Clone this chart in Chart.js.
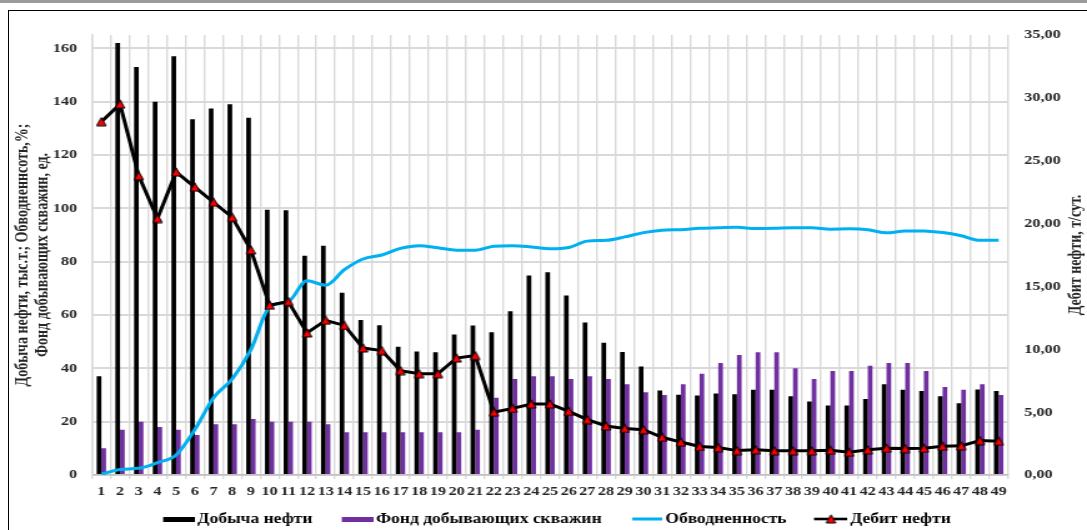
<!DOCTYPE html>
<html><head><meta charset="utf-8">
<script src="https://cdn.jsdelivr.net/npm/chart.js@4/dist/chart.umd.min.js"></script>
<style>
html,body{margin:0;padding:0;overflow:hidden;background:#fff;width:1087px;height:530px;}
#band{position:absolute;left:0;top:0;width:1087px;height:3px;background:#9b9b9b;}
#frame{position:absolute;left:8px;top:10px;width:1100px;height:600px;border:1.5px solid #000;box-sizing:border-box;}
#wrap{position:absolute;left:0;top:0;width:870px;height:530px;transform:scaleX(1.24943);transform-origin:0 0;}
</style></head><body>
<div id="band"></div><div id="frame"></div>
<div id="wrap"><canvas id="c" width="870" height="530"></canvas></div>
<script>
// ---- data ----
const categories = ['1','2','3','4','5','6','7','8','9','10','11','12','13','14','15','16','17','18','19','20','21','22','23','24','25','26','27','28','29','30','31','32','33','34','35','36','37','38','39','40','41','42','43','44','45','46','47','48','49'];
const oilProduction = [37,162,153,140,157,133.4,137.4,139,134,99.5, 99.3,82.2,86,68.3,58.1,56.2,48.1,46.3,46,52.7, 56.1,53.5,61.4,74.8,76,67.3,57.2,49.6,46.1,40.7, 31.7,30.1,29.8,30.6,30.3,32,32,29.5,27.6,26.1, 26.1,28.5,34,32,31.5,29.5,26.9,32.1,31.5];
const wellStock = [10,17,20,18,17,15,19,19,21,20, 20,20,19,16,16,16,16,16,16,16, 17,29,36,37,37,36,37,36,34,31, 30,34,38,42,45,46,46,40,36,39, 39,41,42,42,39,33,32,34,30];
const waterCut = [0.3,2.1,2.5,4.6,7.5,17,29,36,47,63, 65,72.8,71.2,77,81,82.5,85,86,85.2,84.3, 84.3,85.8,86,85.5,84.8,85.3,87.7,88,89.3,90.9, 91.8,92,92.5,92.7,92.9,92.4,92.5,92.7,92.7,92.2, 92.3,92,90.8,91.5,91.5,90.9,89.7,88,88];
const oilRate = [28.1,29.5,23.8,20.4,24.1,22.9,21.7,20.5,17.9,13.5, 13.8,11.3,12.3,11.9,10.1,9.9,8.3,8.05,8.05,9.3, 9.5,5.0,5.3,5.65,5.65,5.06,4.4,3.9,3.7,3.6, 3.0,2.62,2.27,2.18,1.94,2.0,1.92,1.92,1.92,1.97, 1.81,2.0,2.13,2.1,2.13,2.29,2.32,2.74,2.69];
const seriesNames = ['Добыча нефти','Фонд добывающих скважин','Обводненность','Дебит нефти'];
const leftTitle = ['Добыча нефти, тыс.т.; Обводненнсоть,%;','Фонд добывающих скважин, ед.'];
const rightTitle = 'Дебит нефти, т/сут.';
const leftTicks = [0,20,40,60,80,100,120,140,160];

// ---- styling ----
const FONT = '"Liberation Serif","Times New Roman",serif';
const TXT = '#262626';
const W = 870, H = 530;
const PLOT_L = 92/1.24943, PLOT_R = 1008/1.24943, PLOT_B = 475;
const PAD_L = 10, PAD_B = -6, LEG_PAD = 12, LEG_FS = 14, BOXW = 32;

function mkIcon(w,h,draw){const c=document.createElement('canvas');c.width=w;c.height=h;draw(c.getContext('2d'),w,h);return c;}
function tri(g,cx,cy){g.beginPath();g.moveTo(cx,cy-4.2);g.lineTo(cx+3.8,cy+4);g.lineTo(cx-3.8,cy+4);g.closePath();g.fillStyle='#ff0000';g.fill();g.lineWidth=1;g.strokeStyle='#000';g.stroke();}
const triImg = mkIcon(10,10,(g)=>tri(g,5,5));
// legend icons: canvas wider than the legend box so the swatch ends close to the text
const ICW = Math.round(BOXW + 9);
const icons = [
  mkIcon(ICW,5,(g,w,h)=>{g.fillStyle='#000';g.fillRect(w-25,0,25,h);}),
  mkIcon(ICW,5,(g,w,h)=>{g.fillStyle='#7030A0';g.fillRect(w-25,0,25,h);}),
  mkIcon(ICW,4,(g,w,h)=>{g.fillStyle='#00B0F0';g.fillRect(w-24,0.5,24,3);}),
  mkIcon(ICW+1,10,(g,w,h)=>{g.fillStyle='#000';g.fillRect(w-27,3.7,27,2.6);tri(g,w-27+13.6,5);})
];

const rightTitlePlugin = {
  id:'rightTitle',
  afterDraw(chart){
    const ctx = chart.ctx;
    ctx.save();
    ctx.translate(861.4, 255);
    ctx.rotate(-Math.PI/2);
    ctx.font = 'bold 14px ' + FONT;
    ctx.fillStyle = TXT;
    ctx.textAlign = 'center';
    ctx.textBaseline = 'middle';
    ctx.fillText(rightTitle, 0, 0);
    ctx.restore();
  }
};

const tickFont = {family:FONT, size:13, weight:'bold'};

new Chart(document.getElementById('c'), {
  type:'bar',
  data:{
    labels: categories,
    datasets:[
      {type:'bar', label:seriesNames[0], data:oilProduction, backgroundColor:'#000000', yAxisID:'y', order:3, categoryPercentage:0.5, barPercentage:1},
      {type:'bar', label:seriesNames[1], data:wellStock, backgroundColor:'#7030A0', yAxisID:'y', order:4, categoryPercentage:0.5, barPercentage:1},
      {type:'line', label:seriesNames[2], data:waterCut, borderColor:'#00B0F0', backgroundColor:'#00B0F0', borderWidth:3, pointRadius:0, cubicInterpolationMode:'monotone', yAxisID:'y', order:2},
      {type:'line', label:seriesNames[3], data:oilRate, borderColor:'#000000', backgroundColor:'#ff0000', borderWidth:3, pointStyle:triImg, pointRadius:5, tension:0, yAxisID:'y1', order:1}
    ]
  },
  options:{
    responsive:false,
    animation:false,
    devicePixelRatio:1,
    layout:{padding:{top:35, left:PAD_L, right:0, bottom:PAD_B}},
    plugins:{
      tooltip:{enabled:false},
      legend:{
        position:'bottom',
        labels:{
          font:{family:FONT, size:LEG_FS, weight:'bold'},
          color:'#000',
          usePointStyle:true,
          pointStyleWidth:BOXW,
          padding:LEG_PAD,
          generateLabels(chart){
            const items = Chart.defaults.plugins.legend.labels.generateLabels(chart);
            items.sort((a,b)=>a.datasetIndex-b.datasetIndex);
            items.forEach(it=>{it.pointStyle = icons[it.datasetIndex]; it.fontColor = '#000';});
            return items;
          }
        }
      }
    },
    scales:{
      x:{
        grid:{offset:true, color:'#d9d9d9', lineWidth:1.4, tickLength:4, drawTicks:true},
        border:{color:'#bfbfbf', width:1.5},
        ticks:{font:tickFont, color:TXT, autoSkip:false, maxRotation:0, minRotation:0, padding:5},
        afterFit(s){ s.height = (H - PAD_B) - (LEG_FS + LEG_PAD + 10) - PLOT_B; }
      },
      y:{
        position:'left', min:0, max:165,
        ticks:{stepSize:20, font:tickFont, color:TXT, padding:12},
        afterBuildTicks(s){ s.ticks = leftTicks.map(v=>({value:v})); },
        grid:{color:'#d9d9d9', lineWidth:2, drawTicks:false},
        border:{display:true, color:'#d9d9d9', width:1.5},
        title:{display:true, text:leftTitle, color:TXT, font:{family:FONT, size:14, weight:'bold', lineHeight:1.14}, padding:{top:0, bottom:0}},
        afterFit(s){ s.width = PLOT_L - PAD_L; }
      },
      y1:{
        position:'right', min:0, max:35,
        ticks:{stepSize:5, font:tickFont, color:TXT, padding:13, callback:(v)=>Number(v).toFixed(2).replace('.',',')},
        grid:{display:false, drawTicks:false},
        border:{display:false},
        afterFit(s){ s.width = W - PLOT_R; }
      }
    }
  },
  plugins:[rightTitlePlugin]
});
</script></body></html>
